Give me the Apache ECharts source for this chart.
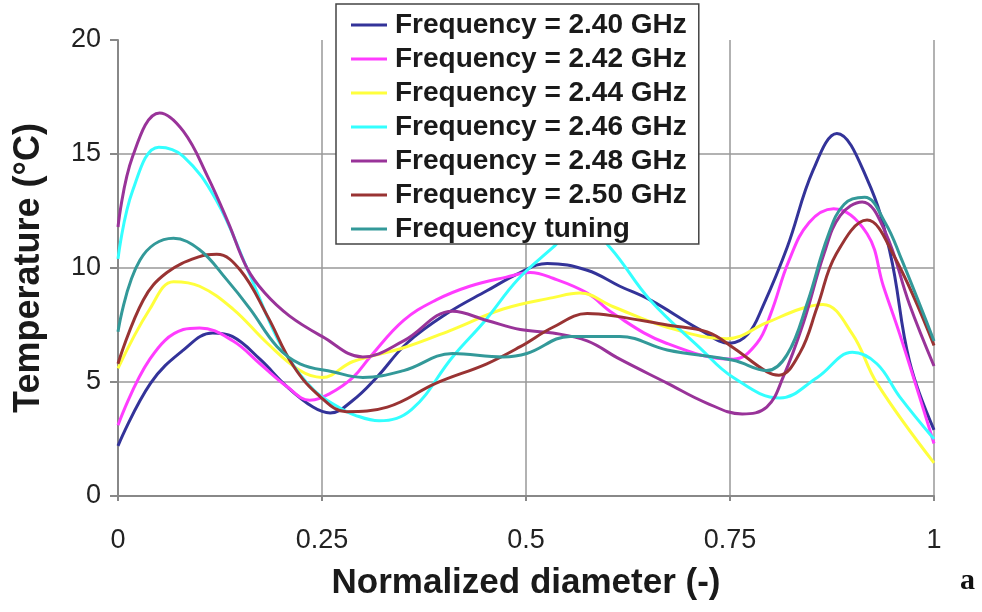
<!DOCTYPE html>
<html>
<head>
<meta charset="utf-8">
<title>Temperature profiles across the normalized diameter</title>
<script src="https://cdn.jsdelivr.net/npm/echarts@6/dist/echarts.min.js"></script>
<style>
  html, body { margin: 0; padding: 0; background: #fff; }
  #chart { width: 982px; height: 612px; }
</style>
</head>
<body>
<div id="chart"></div>
<script>
// Temperature (°C) versus normalized diameter, one profile per frequency setting.
const seriesNames = [
  'Frequency = 2.40 GHz',
  'Frequency = 2.42 GHz',
  'Frequency = 2.44 GHz',
  'Frequency = 2.46 GHz',
  'Frequency = 2.48 GHz',
  'Frequency = 2.50 GHz',
  'Frequency tuning'
];

const f240 = [[0,2.2],[0.04,4.95],[0.08,6.4],[0.116,7.15],[0.14,7.0],[0.174,6.0],[0.207,4.8],[0.239,3.9],[0.26,3.64],
  [0.288,4.2],[0.317,5.2],[0.354,6.7],[0.403,8.0],[0.452,9.0],[0.493,9.8],[0.526,10.2],[0.575,9.9],[0.615,9.2],
  [0.652,8.6],[0.713,7.3],[0.75,6.7],[0.772,7.1],[0.79,8.3],[0.82,10.9],[0.852,14.3],[0.881,15.9],[0.918,13.9],
  [0.946,10.7],[0.97,5.9],[1,2.9]];

const f242 = [[0,3.1],[0.039,6.0],[0.08,7.3],[0.1,7.37],[0.141,6.8],[0.174,5.8],[0.207,4.8],[0.235,4.2],[0.26,4.5],
  [0.288,5.2],[0.309,6.1],[0.35,7.7],[0.39,8.6],[0.431,9.2],[0.476,9.6],[0.505,9.8],[0.533,9.55],[0.575,8.9],
  [0.607,8.0],[0.672,6.7],[0.754,6.0],[0.783,6.7],[0.8,8.0],[0.822,10.3],[0.847,12.0],[0.877,12.6],[0.918,11.5],
  [0.938,9.2],[0.958,7.1],[1,2.3]];

const f244 = [[0,5.6],[0.039,8.2],[0.068,9.4],[0.1,9.2],[0.141,8.2],[0.183,6.7],[0.223,5.5],[0.25,5.2],[0.288,5.9],
  [0.35,6.5],[0.41,7.3],[0.472,8.2],[0.533,8.7],[0.566,8.9],[0.607,8.3],[0.673,7.4],[0.746,6.9],[0.795,7.6],
  [0.836,8.2],[0.864,8.4],[0.9,7.1],[0.93,4.95],[1,1.45]];

const f246 = [[0,10.4],[0.018,13.4],[0.05,15.3],[0.08,14.9],[0.12,13.0],[0.158,10.0],[0.19,7.3],[0.21,6.0],[0.24,4.65],
  [0.27,3.9],[0.29,3.55],[0.32,3.3],[0.36,3.8],[0.41,6.1],[0.45,7.7],[0.49,9.5],[0.533,10.9],[0.568,12.0],
  [0.603,10.9],[0.652,8.6],[0.713,6.5],[0.754,5.2],[0.811,4.3],[0.857,5.2],[0.9,6.3],[0.93,5.8],[0.958,4.35],[1,2.5]];

const f248 = [[0,11.8],[0.018,14.9],[0.051,16.8],[0.08,16.0],[0.11,14.0],[0.135,12.0],[0.158,10.0],[0.18,8.9],
  [0.21,7.9],[0.25,7.0],[0.3,6.1],[0.35,6.8],[0.41,8.1],[0.452,7.7],[0.493,7.3],[0.533,7.15],[0.575,6.8],
  [0.615,6.0],[0.673,4.95],[0.72,4.1],[0.765,3.6],[0.795,3.9],[0.815,5.2],[0.84,7.6],[0.865,10.6],[0.885,12.3],
  [0.912,12.9],[0.94,11.6],[0.97,8.4],[1,5.7]];

const f250 = [[0,5.8],[0.031,8.6],[0.06,9.8],[0.1,10.5],[0.121,10.6],[0.15,9.9],[0.183,7.9],[0.215,5.7],[0.248,4.35],
  [0.28,3.7],[0.33,3.9],[0.39,4.95],[0.452,5.8],[0.493,6.55],[0.533,7.4],[0.575,8.0],[0.607,7.9],[0.673,7.5],
  [0.722,7.2],[0.754,6.5],[0.795,5.45],[0.81,5.3],[0.836,6.3],[0.857,8.3],[0.88,10.6],[0.918,12.1],[0.95,10.6],[1,6.6]];

const fTuning = [[0,7.2],[0.027,10.35],[0.068,11.3],[0.1,10.8],[0.133,9.5],[0.162,8.2],[0.195,6.55],[0.223,5.8],
  [0.263,5.45],[0.3,5.2],[0.35,5.5],[0.41,6.25],[0.472,6.1],[0.501,6.25],[0.554,7.0],[0.615,7.0],[0.673,6.4],
  [0.754,5.95],[0.795,5.5],[0.82,6.2],[0.845,8.5],[0.87,11.4],[0.89,12.8],[0.915,13.1],[0.94,12.0],[0.96,10.4],[1,6.8]];

const seriesData = [f240, f242, f244, f246, f248, f250, fTuning];
const seriesColors = ['#333399', '#ff3cff', '#ffff3c', '#33ffff', '#993399', '#993333', '#339999'];

const xTicks = [0, 0.25, 0.5, 0.75, 1];
const yTicks = [0, 5, 10, 15, 20];

const labelFont = 'Liberation Sans, Arial, sans-serif';

const chart = echarts.init(document.getElementById('chart'), null, { renderer: 'canvas' });

chart.setOption({
  animation: false,
  backgroundColor: '#ffffff',
  grid: { left: 118, right: 48, top: 40, bottom: 116, containLabel: false },
  legend: {
    orient: 'vertical',
    left: 336,
    top: 4,
    data: seriesNames,
    icon: 'rect',
    itemWidth: 36,
    itemHeight: 3,
    itemGap: 4,
    padding: [6, 12, 0, 15],
    backgroundColor: '#ffffff',
    borderColor: '#444444',
    borderWidth: 1.5,
    borderRadius: 0,
    textStyle: { fontFamily: labelFont, fontWeight: 'bold', fontSize: 28, color: '#1a1a1a', lineHeight: 30, padding: [0, 0, 0, 3] }
  },
  xAxis: {
    type: 'value',
    min: 0,
    max: 1,
    interval: 0.25,
    name: 'Normalized diameter (-)',
    nameLocation: 'middle',
    nameGap: 70,
    nameTextStyle: { fontFamily: labelFont, fontWeight: 'bold', fontSize: 35, color: '#1a1a1a' },
    axisLine: { lineStyle: { color: '#888888', width: 2 } },
    axisTick: { show: true, length: 5, lineStyle: { color: '#888888', width: 2 } },
    axisLabel: {
      margin: 31,
      fontFamily: labelFont, fontSize: 27, color: '#222222',
      formatter: v => (xTicks.includes(v) ? String(v) : '')
    },
    splitLine: { show: true, lineStyle: { color: ['transparent', '#999999', '#999999', '#999999', '#999999'], width: 1.5 } }
  },
  yAxis: {
    type: 'value',
    min: 0,
    max: 20,
    interval: 5,
    name: 'Temperature (°C)',
    nameLocation: 'middle',
    nameGap: 71,
    nameTextStyle: { fontFamily: labelFont, fontWeight: 'bold', fontSize: 36, color: '#1a1a1a' },
    axisLine: { show: true, lineStyle: { color: '#888888', width: 2 } },
    axisTick: { show: true, length: 8, lineStyle: { color: '#888888', width: 2 } },
    axisLabel: {
      margin: 17,
      fontFamily: labelFont, fontSize: 27, color: '#222222',
      formatter: v => (yTicks.includes(v) ? String(v) : '')
    },
    splitLine: { show: true, lineStyle: { color: ['transparent', '#999999', '#999999', '#999999', 'transparent'], width: 1.5 } }
  },
  graphic: [{
    type: 'text',
    left: 960,
    top: 566,
    style: { text: 'a', font: 'bold 30px "Liberation Serif", "Times New Roman", serif', fill: '#111111' }
  }],
  series: seriesNames.map((name, i) => ({
    name,
    type: 'line',
    data: seriesData[i],
    smooth: 0.4,
    symbol: 'none',
    color: seriesColors[i],
    lineStyle: { width: 3, color: seriesColors[i] },
    z: 2
  }))
});
</script>
</body>
</html>
